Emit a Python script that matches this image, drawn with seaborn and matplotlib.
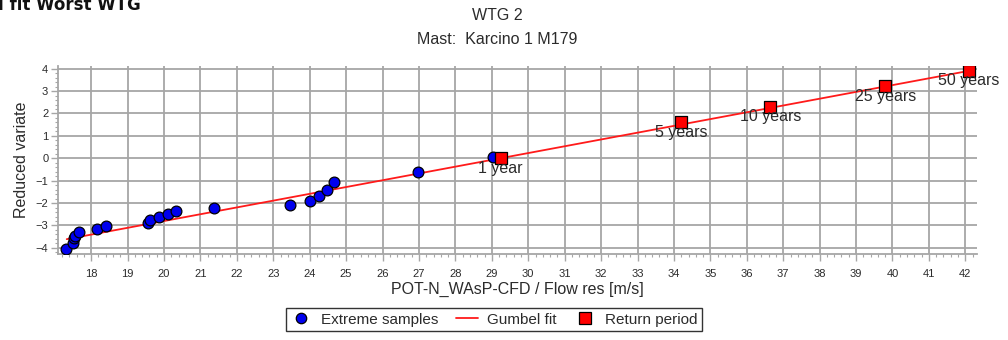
import numpy as np
import pandas as pd
import matplotlib
matplotlib.use("Agg")
import matplotlib.pyplot as plt
from matplotlib.ticker import MultipleLocator
from matplotlib.lines import Line2D
import seaborn as sns

# Extreme wind speed samples (POT) and their Gumbel reduced variate
sample_speed = [17.31, 17.50, 17.53, 17.55, 17.67, 18.16, 18.40, 19.57, 19.62, 19.86,
                20.12, 20.32, 21.38, 23.47, 24.01, 24.26, 24.48, 24.68, 26.98, 29.04]
sample_variate = [-4.03, -3.80, -3.57, -3.46, -3.31, -3.16, -3.01, -2.90, -2.75, -2.63,
                  -2.50, -2.35, -2.20, -2.09, -1.90, -1.67, -1.40, -1.07, -0.62, 0.07]

# Gumbel fit line end points
fit_speed = [17.33, 42.12]
fit_variate = [-3.61, 3.91]

# Return periods
return_labels = ["1 year", "5 years", "10 years", "25 years", "50 years"]
return_speed = [29.24, 34.20, 36.65, 39.80, 42.10]
return_variate = [0.0, 1.61, 2.30, 3.22, 3.91]

sns.set_style("white")
plt.rcParams["font.family"] = ["Liberation Sans", "DejaVu Sans"]

W, H = 1008, 340
fig = plt.figure(figsize=(W / 100, H / 100), dpi=100)
ax = fig.add_axes([58 / W, 1 - 253.5 / H, (977 - 58) / W, (253.5 - 66) / H])

grid_c = "#a6a6a6"
text_c = "#2b2b2b"
fs = 11.5

samples = pd.DataFrame({"speed": sample_speed, "variate": sample_variate})
fit = pd.DataFrame({"speed": fit_speed, "variate": fit_variate})
periods = pd.DataFrame({"speed": return_speed, "variate": return_variate, "label": return_labels})

sns.lineplot(data=fit, x="speed", y="variate", ax=ax, color="#ff1a1a", lw=1.3, zorder=3)
sns.scatterplot(data=samples, x="speed", y="variate", ax=ax, s=60, color="#0000ee",
                edgecolor="black", linewidth=0.9, zorder=4)
sns.scatterplot(data=periods, x="speed", y="variate", ax=ax, marker="s", s=85,
                color="#ff0000", edgecolor="black", linewidth=0.9, zorder=5)

for _, r in periods.iterrows():
    ax.annotate(r["label"], (r["speed"], r["variate"]), xytext=(0, -10),
                textcoords="offset pixels", ha="center", va="center",
                fontsize=fs, color=text_c, zorder=6)

ax.set_xlim(17.09, 42.32)
ax.set_ylim(-4.25, 4.12)
ax.xaxis.set_minor_locator(MultipleLocator(0.2))
ax.yaxis.set_minor_locator(MultipleLocator(0.2))
ax.set_xticks(range(18, 43))
ax.set_yticks(range(-4, 5))

ax.grid(True, which="major", color=grid_c, lw=1.3, zorder=0)
ax.set_axisbelow(True)
for side in ["top", "right"]:
    ax.spines[side].set_visible(False)
for side in ["left", "bottom"]:
    ax.spines[side].set_color(grid_c)
    ax.spines[side].set_linewidth(1.3)

ax.tick_params(axis="both", which="major", direction="out", length=5, width=1,
               color=grid_c, labelsize=8, labelcolor=text_c, left=True, bottom=True)
ax.tick_params(axis="x", which="major", pad=6)
ax.tick_params(axis="y", which="major", pad=2)
ax.tick_params(axis="both", which="minor", direction="out", length=2.5, width=0.8,
               color=grid_c, left=True, bottom=True)

ax.set_xlabel("POT-N_WAsP-CFD / Flow res [m/s]", fontsize=fs, color=text_c, labelpad=2)
ax.set_ylabel("Reduced variate", fontsize=fs, color=text_c, labelpad=5)

fig.text(497 / W, 1 - 15 / H, "WTG 2", ha="center", va="center", fontsize=fs, color=text_c)
fig.text(497 / W, 1 - 40 / H, "Mast:  Karcino 1 M179", ha="center", va="center",
         fontsize=fs, color=text_c)
fig.text(141 / W, 1 - 5 / H, "Gumbel fit Worst WTG", ha="right", va="center",
         fontsize=12, fontweight="bold", color="#111111", family=["DejaVu Sans"])

handles = [
    Line2D([], [], ls="none", marker="o", markersize=7.5, markerfacecolor="#0000ee",
           markeredgecolor="black", markeredgewidth=0.9),
    Line2D([], [], color="#ff1a1a", lw=1.3),
    Line2D([], [], ls="none", marker="s", markersize=8.5, markerfacecolor="#ff0000",
           markeredgecolor="black", markeredgewidth=0.9),
]
leg = fig.legend(handles, ["Extreme samples", "Gumbel fit", "Return period"],
                 loc="lower center", bbox_to_anchor=(494 / W, 1 / H), ncol=3,
                 frameon=True, fancybox=False, edgecolor="black", fontsize=11,
                 handlelength=1.4, handletextpad=0.6, columnspacing=1.2,
                 borderpad=0.3, labelcolor=text_c)
leg.get_frame().set_linewidth(1.0)

fig.savefig("out.png", dpi=100)
